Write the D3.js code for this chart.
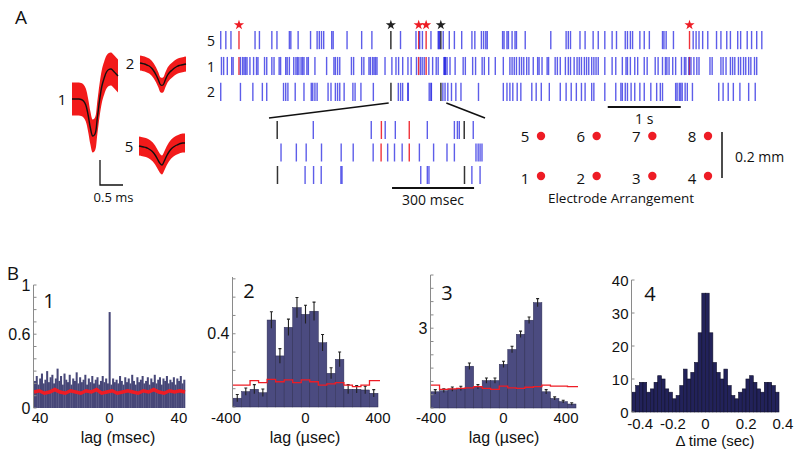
<!DOCTYPE html>
<html>
<head>
<meta charset="utf-8">
<script src="https://cdn.jsdelivr.net/npm/d3@7"></script>
<style>
	body { margin: 0; background: #fff; }
	svg { display: block; font-family: "Open Sans", sans-serif; }
</style>
</head>
<body>
<svg id="fig" width="800" height="450"></svg>
<script>
// ---------------- DATA ----------------

// waveform samples (ms) and mean traces (µV) of the three units
var waveTimes = [0, 0.05, 0.1, 0.15, 0.2, 0.25, 0.3, 0.35, 0.4, 0.45, 0.5, 0.55, 0.6, 0.65, 0.7, 0.75, 0.8, 0.85, 0.9, 0.95, 1.0];
var unit1Mean = [0, 0, 0, 0, -2, -8, -24, -64, -116, -148, -140, -76, -4, 52, 84, 108, 118, 120, 112, 102, 92];
var unit2Mean = [0, -2, -4, -8, -12, -20, -32, -48, -68, -88, -88, -68, -48, -36, -28, -20, -14, -10, -8, -6, -4];
var unit5Mean = [0, -2, -4, -6, -10, -16, -24, -36, -52, -68, -76, -60, -40, -24, -12, -4, 2, 6, 10, 12, 12];
var unitSpread = [66, 30, 38]; // half width of the red band, µV (units 1, 2, 5)

// spike times (s) of units 5, 1, 2
var spikesUnit5 = [0.01, 0.08, 0.15, 0.48, 0.54, 0.71, 0.78, 0.95, 0.97, 1.07, 1.24, 1.33, 1.36, 1.39, 1.42, 1.53, 1.55, 1.74, 1.94, 2.08,
	2.472, 2.684, 2.735, 2.772, 2.889, 2.988, 2.999, 3.006, 3.057,
	3.14, 3.21, 3.31, 3.45, 3.49, 3.58, 3.61, 3.64, 3.66, 3.87, 3.89, 3.93, 3.95, 4.00, 4.04, 4.06, 4.18, 4.53, 4.74, 4.77, 4.80,
	4.93, 5.00, 5.11, 5.18, 5.27, 5.37, 5.43, 5.55, 5.58, 5.62, 5.65, 5.75, 5.81, 5.88, 6.06, 6.08, 6.11, 6.21, 6.48, 6.52, 6.56,
	6.61, 6.68, 6.80, 6.86, 6.94, 6.99, 7.09, 7.13, 7.22, 7.28, 7.35, 7.42];
var spikesUnit1 = [0.02, 0.05, 0.10, 0.16, 0.18, 0.28, 0.31, 0.33, 0.35, 0.37, 0.41, 0.46, 0.50, 0.52, 0.61, 0.64, 0.71, 0.74, 0.81, 0.83,
	0.90, 0.92, 0.95, 1.01, 1.04, 1.06, 1.08, 1.11, 1.13, 1.15, 1.19, 1.21, 1.30, 1.46, 1.56, 1.58, 1.61, 1.64, 1.80, 1.83, 1.94, 1.97,
	2.04, 2.06, 2.09, 2.11, 2.13, 2.15, 2.26,
	2.354, 2.410, 2.446, 2.502, 2.574, 2.618, 2.691, 2.744, 2.769, 2.797, 2.860, 2.912, 2.961, 2.988, 3.067, 3.075, 3.082, 3.089,
	3.11, 3.15, 3.22, 3.33, 3.36, 3.46, 3.50, 3.59, 3.62, 3.68, 3.77, 3.88, 3.97, 4.00, 4.03, 4.06, 4.10, 4.13, 4.16, 4.20, 4.23,
	4.29, 4.35, 4.37, 4.41, 4.48, 4.50, 4.59, 4.62, 4.66, 4.73, 4.77, 4.80, 4.85, 4.89, 4.92, 4.95, 4.99, 5.02, 5.05, 5.09, 5.12,
	5.15, 5.18, 5.27, 5.37, 5.42, 5.51, 5.56, 5.58, 5.62, 5.68, 5.72, 5.81, 5.85, 5.96, 6.00, 6.06, 6.10, 6.12, 6.15, 6.20, 6.24,
	6.32, 6.36, 6.38, 6.42, 6.45, 6.49, 6.53, 6.56, 6.71, 6.74, 6.86, 6.89, 6.93, 6.99, 7.02, 7.05, 7.10, 7.13, 7.17, 7.20, 7.24,
	7.27, 7.32, 7.35];
var spikesUnit2 = [0.01, 0.28, 0.45, 0.58, 0.64, 0.87, 0.90, 0.93, 1.03, 1.15, 1.25, 1.27, 1.30, 1.33, 1.48, 1.52, 1.58, 1.61, 1.64,
	1.70, 1.82, 1.85, 1.93, 2.10,
	2.442, 2.473, 2.501, 2.573, 2.577, 2.865, 2.889, 2.895, 3.052, 3.082,
	3.12, 3.17, 3.23, 3.30, 3.54, 3.88, 3.93, 3.97, 4.01, 4.07, 4.12, 4.27, 4.33, 4.40, 4.51, 4.66, 4.74, 4.81, 4.88, 4.95, 5.00,
	5.09, 5.12, 5.27, 5.42, 5.49, 5.51, 5.55, 5.58, 5.63, 5.68, 5.75, 5.81, 5.90, 5.98, 6.03, 6.06, 6.24, 6.26, 6.29, 6.31, 6.33,
	6.37, 6.40, 6.47, 6.83, 6.89, 6.96, 7.03, 7.12, 7.24, 7.33];
// synchronous spikes: red = units 5 & 1, black = units 5 & 2
var redUnit5 = [0.26, 2.721, 2.823, 6.43];
var redUnit1 = [0.26, 2.720, 2.823, 6.43];
var blackUnit5 = [2.340, 3.024];
var blackUnit2 = [2.341, 3.025];
var rasterUnits = ['5', '1', '2'];
var zoomWindow = [2.31, 3.10]; // s

// electrode arrangement
var electrodeTop = [5, 6, 7, 8];
var electrodeBottom = [1, 2, 3, 4];

// B1: cross-correlogram, 1 ms bins from -43.5 ms
var p1Counts = [0.22, 0.26, 0.19, 0.24, 0.28, 0.2, 0.23, 0.3, 0.21, 0.25,
	0.27, 0.2, 0.24, 0.32, 0.22, 0.26, 0.19, 0.28, 0.23, 0.21,
	0.27, 0.19, 0.24, 0.22, 0.29, 0.2, 0.25, 0.21, 0.23, 0.27,
	0.19, 0.24, 0.21, 0.26, 0.2, 0.23, 0.25, 0.19, 0.22, 0.26,
	0.21, 0.24, 0.2, 0.78, 0.19, 0.24, 0.21, 0.23, 0.2, 0.26,
	0.22, 0.19, 0.25, 0.21, 0.24, 0.2, 0.27, 0.22, 0.19, 0.25,
	0.21, 0.23, 0.26, 0.2, 0.22, 0.25, 0.19, 0.24, 0.21, 0.27,
	0.2, 0.23, 0.25, 0.19, 0.24, 0.22, 0.26, 0.2, 0.23, 0.21,
	0.25, 0.19, 0.24, 0.22, 0.26, 0.2, 0.23];
var p1Shuffle = [0.13, 0.14, 0.12, 0.13, 0.15, 0.13, 0.12, 0.14, 0.13, 0.12, 0.14, 0.13, 0.15, 0.12, 0.13,
	0.14, 0.12, 0.13, 0.14, 0.13, 0.12, 0.14, 0.13, 0.15, 0.13, 0.12, 0.14, 0.13, 0.14, 0.13]; // every 3 ms

// B2, B3: 17 bins from -400 to 400 µs
var p2Counts = [0.048, 0.084, 0.097, 0.078, 0.475, 0.279, 0.435, 0.543, 0.506, 0.523, 0.351, 0.184, 0.26, 0.097, 0.097, 0.093, 0.075];
var p2Err = [0.02, 0.02, 0.025, 0.02, 0.045, 0.04, 0.045, 0.055, 0.05, 0.05, 0.045, 0.03, 0.04, 0.025, 0.02, 0.02, 0.02];
var p2Shuffle = [0.12, 0.12, 0.144, 0.133, 0.151, 0.138, 0.148, 0.133, 0.148, 0.138, 0.12, 0.126, 0.133, 0.12, 0.111, 0.12, 0.144];
var p3Counts = [0.61, 0.65, 0.71, 0.74, 1.57, 0.80, 1.03, 1.03, 1.64, 2.2, 2.77, 3.3, 3.96, 0.61, 0.36, 0.24, 0.15];
var p3Err = [0.08, 0.07, 0.08, 0.08, 0.12, 0.08, 0.1, 0.1, 0.12, 0.12, 0.12, 0.12, 0.15, 0.08, 0.06, 0.05, 0.05];
var p3Shuffle = [0.86, 0.70, 0.72, 0.74, 0.76, 0.80, 0.74, 0.70, 0.82, 0.76, 0.74, 0.78, 0.80, 0.86, 0.82, 0.82, 0.80];

// B4: 40 bins from -0.45 s
var p4Counts = [6, 8, 9, 9, 6, 7, 9, 11, 10, 7, 6, 4, 5, 8, 13, 10, 12, 15, 24, 36,
	36, 24, 15, 12, 10, 13, 8, 5, 4, 6, 7, 10, 11, 9, 7, 6, 9, 9, 8, 6];

// ---------------- DRAWING ----------------
var svg = d3.select('#fig');
var blue = '#1f1fe0', red = '#ee1c25', dark = '#333';

function addText(x, y, txt, size, opts) {
	opts = opts || {};
	return svg.append('text')
		.attr('x', x).attr('y', y)
		.attr('dominant-baseline', 'central')
		.attr('text-anchor', opts.anchor || 'middle')
		.attr('font-size', size)
		.attr('font-family', opts.family || '"Open Sans", sans-serif')
		.attr('fill', '#111')
		.text(txt);
}

// panel letters
addText(21, 17, 'A', 19);
addText(13, 273, 'B', 19);

// ---- waveforms ----
var waveX = d3.scaleLinear().domain([0, 1]).range([0, 46]);     // ms -> px
var waveY = d3.scaleLinear().domain([0, 100]).range([0, -25]);  // µV -> px
var waveUnits = [
	{ name: '1', mean: unit1Mean, spread: unitSpread[0], x: 72, y: 99 },
	{ name: '2', mean: unit2Mean, spread: unitSpread[1], x: 140, y: 63 },
	{ name: '5', mean: unit5Mean, spread: unitSpread[2], x: 139, y: 146 }
];
waveUnits.forEach(function (u) {
	var g = svg.append('g').attr('transform', 'translate(' + u.x + ',' + u.y + ')');
	var band = d3.area()
		.x(function (d, i) { return waveX(waveTimes[i]); })
		.y0(function (d) { return waveY(d - u.spread); })
		.y1(function (d) { return waveY(d + u.spread); })
		.curve(d3.curveCatmullRom);
	var line = d3.line()
		.x(function (d, i) { return waveX(waveTimes[i]); })
		.y(function (d) { return waveY(d); })
		.curve(d3.curveCatmullRom);
	g.append('path').attr('d', band(u.mean)).attr('fill', '#f21a1a');
	g.append('path').attr('d', line(u.mean)).attr('fill', 'none').attr('stroke', '#111').attr('stroke-width', 1.4);
	addText(u.x - 10, u.y, u.name, 15);
});
// scale bar: 0.5 ms x 100 µV
var sbX = 100, sbY = 185;
svg.append('path')
	.attr('d', 'M' + sbX + ',' + (sbY + waveY(100)) + 'V' + sbY + 'H' + (sbX + waveX(0.5)))
	.attr('fill', 'none').attr('stroke', '#111').attr('stroke-width', 1.3);
addText(sbX + waveX(0.5) / 2 + 2, 197, '0.5 ms', 13);

// ---- spike raster ----
var mainX = d3.scaleLinear().domain([0, 7.45]).range([220, 764]);
var mainRow = d3.scaleBand().domain(rasterUnits).range([31, 101]).paddingInner(0.3);
var zoomX = d3.scaleLinear().domain(zoomWindow).range([269, 485]);
var zoomRow = d3.scaleBand().domain(rasterUnits).range([121, 184]).paddingInner(0.2);

function drawSpikes(x, rowScale, unit, times, color, opacity, width, win) {
	var t = win ? times.filter(function (d) { return d >= win[0] && d <= win[1]; }) : times;
	svg.append('g').selectAll('line').data(t).join('line')
		.attr('x1', function (d) { return x(d); })
		.attr('x2', function (d) { return x(d); })
		.attr('y1', rowScale(unit))
		.attr('y2', rowScale(unit) + rowScale.bandwidth())
		.attr('stroke', color)
		.attr('stroke-opacity', opacity)
		.attr('stroke-width', width);
}

function drawRaster(x, rowScale, win) {
	drawSpikes(x, rowScale, '5', redUnit5, red, 0.9, 1.4, win);
	drawSpikes(x, rowScale, '1', redUnit1, red, 0.9, 1.4, win);
	drawSpikes(x, rowScale, '5', blackUnit5, dark, 1, 1.5, win);
	drawSpikes(x, rowScale, '2', blackUnit2, dark, 1, 1.5, win);
	drawSpikes(x, rowScale, '5', spikesUnit5, blue, 0.72, 1.4, win);
	drawSpikes(x, rowScale, '1', spikesUnit1, blue, 0.72, 1.4, win);
	drawSpikes(x, rowScale, '2', spikesUnit2, blue, 0.72, 1.4, win);
}
drawRaster(mainX, mainRow, null);
drawRaster(zoomX, zoomRow, zoomWindow);

rasterUnits.forEach(function (u) {
	addText(211, mainRow(u) + mainRow.bandwidth() / 2, u, 14);
});

// stars over synchronous spikes
var star = d3.symbol().type(d3.symbolStar).size(32);
svg.append('g').selectAll('path.rs').data(redUnit5).join('path')
	.attr('transform', function (d) { return 'translate(' + mainX(d) + ',25)'; })
	.attr('d', star).attr('fill', red);
svg.append('g').selectAll('path.bs').data(blackUnit5).join('path')
	.attr('transform', function (d) { return 'translate(' + mainX(d) + ',25)'; })
	.attr('d', star).attr('fill', '#222');

// lines connecting raster with zoomed window
zoomWindow.forEach(function (t) {
	svg.append('line')
		.attr('x1', mainX(t)).attr('y1', 103)
		.attr('x2', zoomX(t)).attr('y2', 118)
		.attr('stroke', '#111').attr('stroke-width', 1.6);
});

// 1 s and 300 ms scale bars
svg.append('line').attr('x1', mainX(5.31)).attr('x2', mainX(6.31)).attr('y1', 107).attr('y2', 107)
	.attr('stroke', '#111').attr('stroke-width', 2);
addText((mainX(5.31) + mainX(6.31)) / 2, 118, '1 s', 14);
svg.append('line').attr('x1', zoomX(2.76)).attr('x2', zoomX(3.06)).attr('y1', 188).attr('y2', 188)
	.attr('stroke', '#111').attr('stroke-width', 2);
addText((zoomX(2.76) + zoomX(3.06)) / 2, 199, '300 msec', 14);

// ---- electrode arrangement ----
var colX = d3.scaleLinear().domain([0, 3]).range([541, 708]);
var rowY = d3.scaleLinear().domain([0, 0.2]).range([176, 136]); // mm
[[electrodeTop, 0.2], [electrodeBottom, 0]].forEach(function (row) {
	row[0].forEach(function (id, i) {
		svg.append('circle').attr('cx', colX(i)).attr('cy', rowY(row[1])).attr('r', 4.2).attr('fill', red);
		addText(colX(i) - 16, rowY(row[1]) + (row[1] ? 0 : 2), id, 15);
	});
});
svg.append('line').attr('x1', 722).attr('x2', 722).attr('y1', rowY(0.22)).attr('y2', rowY(-0.01))
	.attr('stroke', '#111').attr('stroke-width', 1.5);
addText(735, 156, '0.2 mm', 14, { anchor: 'start' });
addText(621, 198, 'Electrode Arrangement', 13.5);

// ---- panel B histograms ----
var axisFont = '"Liberation Sans", Arial, sans-serif';

function drawHistogram(cfg) {
	var g = svg.append('g');
	var x = d3.scaleLinear().domain(cfg.xDomain).range(cfg.xRange);
	var y = d3.scaleLinear().domain(cfg.yDomain).range(cfg.yRange);
	var binLeft = function (i) { return cfg.binStart + i * cfg.binWidth; };
	var bw = x(cfg.binWidth) - x(0);

	g.selectAll('rect').data(cfg.counts).join('rect')
		.attr('x', function (d, i) { return x(binLeft(i)); })
		.attr('width', bw + (cfg.overlap || 0))
		.attr('y', function (d) { return y(d); })
		.attr('height', function (d) { return y(0) - y(d); })
		.attr('fill', cfg.fill)
		.attr('stroke', cfg.stroke || 'none')
		.attr('stroke-width', cfg.strokeWidth || 0);

	if (cfg.err) {
		cfg.counts.forEach(function (d, i) {
			var cx = x(binLeft(i)) + bw / 2, e = cfg.err[i];
			g.append('path')
				.attr('d', 'M' + cx + ',' + y(d - e) + 'V' + y(d + e) +
					'M' + (cx - 1.5) + ',' + y(d + e) + 'H' + (cx + 1.5))
				.attr('stroke', '#222').attr('stroke-width', 1.1).attr('fill', 'none');
		});
	}

	if (cfg.shuffle) {
		var pts = cfg.shuffle.map(function (d, i) { return [x(cfg.shuffleStart + i * cfg.shuffleStep), y(d)]; });
		if (cfg.step) {
			pts.push([x(cfg.shuffleStart + cfg.shuffle.length * cfg.shuffleStep) + 2, y(cfg.shuffle[cfg.shuffle.length - 1])]);
		}
		g.append('path')
			.attr('d', d3.line().curve(cfg.step ? d3.curveStepAfter : d3.curveLinear)(pts))
			.attr('fill', 'none').attr('stroke', red).attr('stroke-width', cfg.shuffleWidth);
	}

	// y axis with inward ticks
	var ax = cfg.xRange[0] - 0.5;
	g.append('line').attr('x1', ax).attr('x2', ax).attr('y1', y(cfg.yDomain[0])).attr('y2', y(cfg.yDomain[1]))
		.attr('stroke', '#8a8a8a').attr('stroke-width', 1);
	g.selectAll('line.tk').data(cfg.yTicks).join('line').attr('class', 'tk')
		.attr('x1', ax).attr('x2', ax + 3)
		.attr('y1', function (d) { return y(d); }).attr('y2', function (d) { return y(d); })
		.attr('stroke', '#8a8a8a').attr('stroke-width', 1);
	cfg.yLabels.forEach(function (d) {
		addText(ax - 3, y(d), d, cfg.yFont, { anchor: 'end', family: axisFont });
	});
	cfg.xTicks.forEach(function (d, i) {
		addText(x(d) + (cfg.xShift ? cfg.xShift[i] : 0), cfg.xLabelY, cfg.xFormat(d), cfg.xFont, { family: axisFont });
	});
	addText(cfg.titleX, cfg.titleY, cfg.title, cfg.titleFont, { family: axisFont });
	addText(cfg.numX, cfg.numY, cfg.num, 20);
}

drawHistogram({
	counts: p1Counts, binStart: -43.5, binWidth: 1, overlap: 0.3,
	xDomain: [-43.5, 43.5], xRange: [34, 185], yDomain: [0, 1], yRange: [408, 285],
	fill: '#474778',
	shuffle: p1Shuffle, shuffleStart: -43.5, shuffleStep: 3, shuffleWidth: 3.5,
	yTicks: [0, 0.1, 0.2, 0.3, 0.4, 0.5, 0.6, 0.7, 0.8, 0.9, 1], yLabels: [0, 0.6, 1], yFont: 16,
	xTicks: [-40, 0, 40], xFormat: function (d) { return String(Math.abs(d)); }, xFont: 15, xLabelY: 417,
	title: 'lag (msec)', titleX: 118, titleY: 437, titleFont: 16,
	num: '1', numX: 49, numY: 300
});
drawHistogram({
	counts: p2Counts, err: p2Err, binStart: -400, binWidth: 47.06,
	xDomain: [-400, 400], xRange: [233, 378], yDomain: [0, 0.71], yRange: [407, 277],
	fill: '#4b4b80', stroke: '#2a2a50', strokeWidth: 0.5,
	shuffle: p2Shuffle, shuffleStart: -400, shuffleStep: 47.06, shuffleWidth: 1.3, step: true,
	yTicks: [0, 0.1, 0.2, 0.3, 0.4, 0.5, 0.6, 0.7], yLabels: [0.4], yFont: 16,
	xTicks: [-400, 0, 400], xFormat: String, xFont: 15, xLabelY: 417, xShift: [-7, 0, 0],
	title: 'lag (µsec)', titleX: 305, titleY: 437, titleFont: 16,
	num: '2', numX: 249, numY: 290
});
drawHistogram({
	counts: p3Counts, err: p3Err, binStart: -400, binWidth: 47.06,
	xDomain: [-400, 400], xRange: [431, 576], yDomain: [0, 5], yRange: [408, 275],
	fill: '#4b4b80', stroke: '#2a2a50', strokeWidth: 0.5,
	shuffle: p3Shuffle, shuffleStart: -400, shuffleStep: 47.06, shuffleWidth: 1.3, step: true,
	yTicks: [0, 0.5, 1, 1.5, 2, 2.5, 3, 3.5, 4, 4.5, 5], yLabels: [3], yFont: 16,
	xTicks: [-400, 0, 400], xFormat: String, xFont: 15, xLabelY: 417, xShift: [0, 0, -10],
	title: 'lag (µsec)', titleX: 504, titleY: 437, titleFont: 16,
	num: '3', numX: 447, numY: 292
});
drawHistogram({
	counts: p4Counts, binStart: -0.45, binWidth: 0.0225,
	xDomain: [-0.45, 0.45], xRange: [632, 779], yDomain: [0, 40], yRange: [412, 280],
	fill: '#22225a', stroke: '#10102a', strokeWidth: 0.6,
	yTicks: [0, 10, 20, 30, 40], yLabels: [0, 10, 20, 30, 40], yFont: 15,
	xTicks: [-0.4, -0.2, 0, 0.2, 0.4], xFormat: String, xFont: 15, xLabelY: 423, xShift: [0, 0, 0, 8, 12],
	title: 'Δ time (sec)', titleX: 715, titleY: 440, titleFont: 15,
	num: '4', numX: 650, numY: 293
});
</script>
</body>
</html>
